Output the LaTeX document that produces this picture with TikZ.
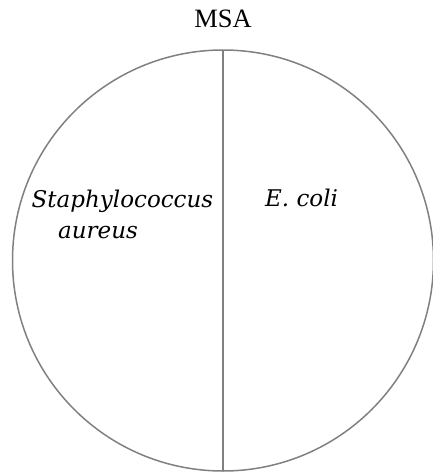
\documentclass[tikz,border=0pt]{standalone}
\usepackage{fontspec}
\setmainfont{Liberation Serif}
\newfontfamily\labfont{DejaVu Serif}
\begin{document}
\begin{tikzpicture}[x=1pt,y=-1pt,
  rim/.style={draw=black!50,line width=1.5pt},
  lab/.style={font=\labfont\itshape\fontsize{23}{27}\selectfont,inner sep=0pt,anchor=base west}]
\useasboundingbox (0,0) rectangle (432,474);
\coordinate (c) at (223,260.5);
\draw[rim] (c) circle[radius=210.5];
\coordinate (top) at (223,50);
\coordinate (bot) at (223,471);
\draw[rim] (top) -- (bot);
\node[font=\fontsize{26.5}{30}\selectfont,inner sep=0pt,anchor=base] (msa) at (223,27) {MSA};
\node[lab] (staph) at (31.5,207) {Staphylococcus};
\node[lab] (aureus) at (58,238) {aureus};
\node[lab] (ecoli) at (265,206) {E. coli};
\end{tikzpicture}
\end{document}
